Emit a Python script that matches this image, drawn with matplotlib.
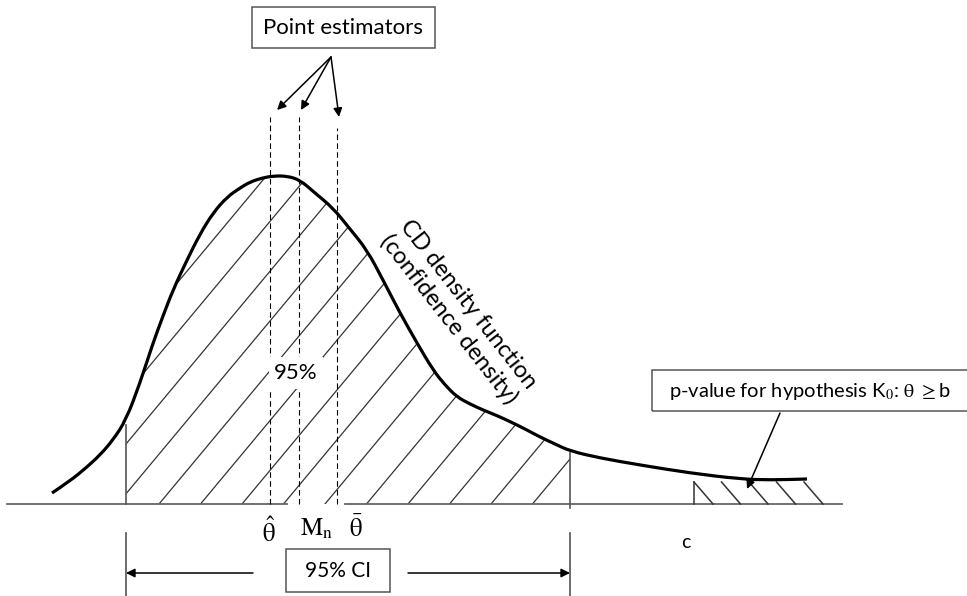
import numpy as np
import matplotlib.pyplot as plt
from matplotlib.patches import Rectangle, PathPatch
from matplotlib.path import Path

plt.rcParams['mathtext.fontset'] = 'stix'
SANS = ['Lato', 'DejaVu Sans']

# confidence density (x position, height above baseline)
theta = np.array([52, 70, 87, 100, 113, 126, 140, 153, 163, 173, 187, 200, 213, 227,
                  240, 250, 262, 273, 287, 300, 315, 333, 350, 367, 383, 400, 417, 433,
                  445, 457, 470, 483, 498, 513, 527, 540, 555, 570, 600, 640, 690, 740,
                  770, 807])
density = 504 - np.array([493, 481, 467, 455, 440, 420, 383, 343, 316, 290, 260, 234, 213, 197,
                          188, 182, 178, 176, 176, 180, 193, 208, 229, 250, 280, 313, 343, 370,
                          385, 397, 404, 410, 416, 423, 430, 437, 444, 451, 458, 465, 473, 479,
                          480, 479])

ci_low, ci_high = 126, 570
theta_hat, median_n, theta_bar = 270, 299, 337
b_value = 694

fig = plt.figure(figsize=(9.67, 5.96), dpi=100)
ax = fig.add_axes([0, 0, 1, 1])
ax.set_xlim(0, 967)
ax.set_ylim(-92, 504)
ax.axis('off')

# smooth curve: quadratic pieces through the midpoints of the read points
pts = np.column_stack([theta, density])
verts = [pts[0]]
codes = [Path.MOVETO]
for i in range(1, len(pts) - 1):
    verts += [pts[i], (pts[i] + pts[i + 1]) / 2]
    codes += [Path.CURVE3, Path.CURVE3]
verts.append(pts[-1])
codes.append(Path.LINETO)
ax.add_patch(PathPatch(Path(verts, codes), fill=False, ec='black', lw=2.3, zorder=4))

# shaded 95% area under the curve, hatched by hand
inside = (theta >= ci_low) & (theta <= ci_high)
area = ax.fill_between(theta, density, where=inside, facecolor='none', edgecolor='none')
clip = area.get_paths()[0]
slope = 1.2
for x0 in np.arange(159 - 41.5 * 6, ci_high + 10, 41.5):
    ln, = ax.plot([x0, x0 + 450], [0, slope * 450], color='#333333', lw=0.9, zorder=2)
    ln.set_clip_path(clip, ax.transData)

# baseline (gap under the estimator labels, as in the original)
ax.plot([7, 287], [0, 0], color='#666666', lw=1.3)
ax.plot([345, 842], [0, 0], color='#666666', lw=1.3)

# CI limits
ax.plot([ci_low, ci_low], [0, 79], color='#555555', lw=1.2)
ax.plot([ci_high, ci_high], [-4, 52], color='#555555', lw=1.2)
for xc in (ci_low, ci_high):
    ax.plot([xc, xc], [-29, -92], color='#555555', lw=1.2)
arr = dict(arrowstyle='-|>', mutation_scale=13, lw=1.1, color='black', shrinkA=0, shrinkB=0)
ax.annotate('', xy=(ci_low, -69), xytext=(253, -69), arrowprops=arr)
ax.annotate('', xy=(ci_high, -69), xytext=(408, -69), arrowprops=arr)
ax.add_patch(Rectangle((286, -88), 104, 43, fill=False, ec='#555555', lw=1.1))
ax.text(338, -67, '95% CI', ha='center', va='center', fontsize=15, family=SANS)

# point estimators
for xe, top in ((theta_hat, 387), (median_n, 387), (theta_bar, 376)):
    ax.plot([xe, xe], [0, top], color='black', lw=0.8, ls=(0, (5, 3)), zorder=3)
ax.text(269, -28, r'$\hat{\mathrm{\theta}}$', ha='center', va='center', fontsize=18)
ax.text(317, -25, r'$\mathrm{M_n}$', ha='center', va='center', fontsize=18)
ax.text(356, -25, r'$\bar{\mathrm{\theta}}$', ha='center', va='center', fontsize=18)

ax.add_patch(Rectangle((252, 456), 183, 41, fill=False, ec='#555555', lw=1.1))
ax.text(343, 476, 'Point estimators', ha='center', va='center', fontsize=16, family=SANS)
for head in ((277, 394), (301, 394), (339, 387)):
    ax.annotate('', xy=head, xytext=(331, 447), arrowprops=arr)

ax.text(296, 131, '95%', ha='center', va='center', fontsize=16, family=SANS, zorder=5,
        bbox=dict(boxstyle='square,pad=0.25', fc='white', ec='none'))

ax.text(458, 192, 'CD density function\n(confidence density)', ha='center', va='center',
        rotation=-52, rotation_mode='anchor', fontsize=17, family=SANS, linespacing=1.15)

# p-value region beyond b
ax.plot([b_value, b_value], [0, 22], color='#333333', lw=1.1)
for xb in np.arange(713, 830, 27.5):
    ax.plot([xb - 19, xb], [22, 0], color='#333333', lw=1.1)
ax.text(686, -39, 'c', ha='center', va='center', fontsize=14, family=SANS)

ax.add_patch(Rectangle((652, 93), 330, 41, fill=False, ec='#555555', lw=1.1, clip_on=False))
ax.text(810, 112, r'p-value for hypothesis K$_0$: $\mathrm{\theta}$ ${\geq}$b', ha='center',
        va='center', fontsize=14.5, family=SANS)
ax.annotate('', xy=(747, 15), xytext=(780, 91), arrowprops=arr)

fig.savefig('out.png', dpi=100)
